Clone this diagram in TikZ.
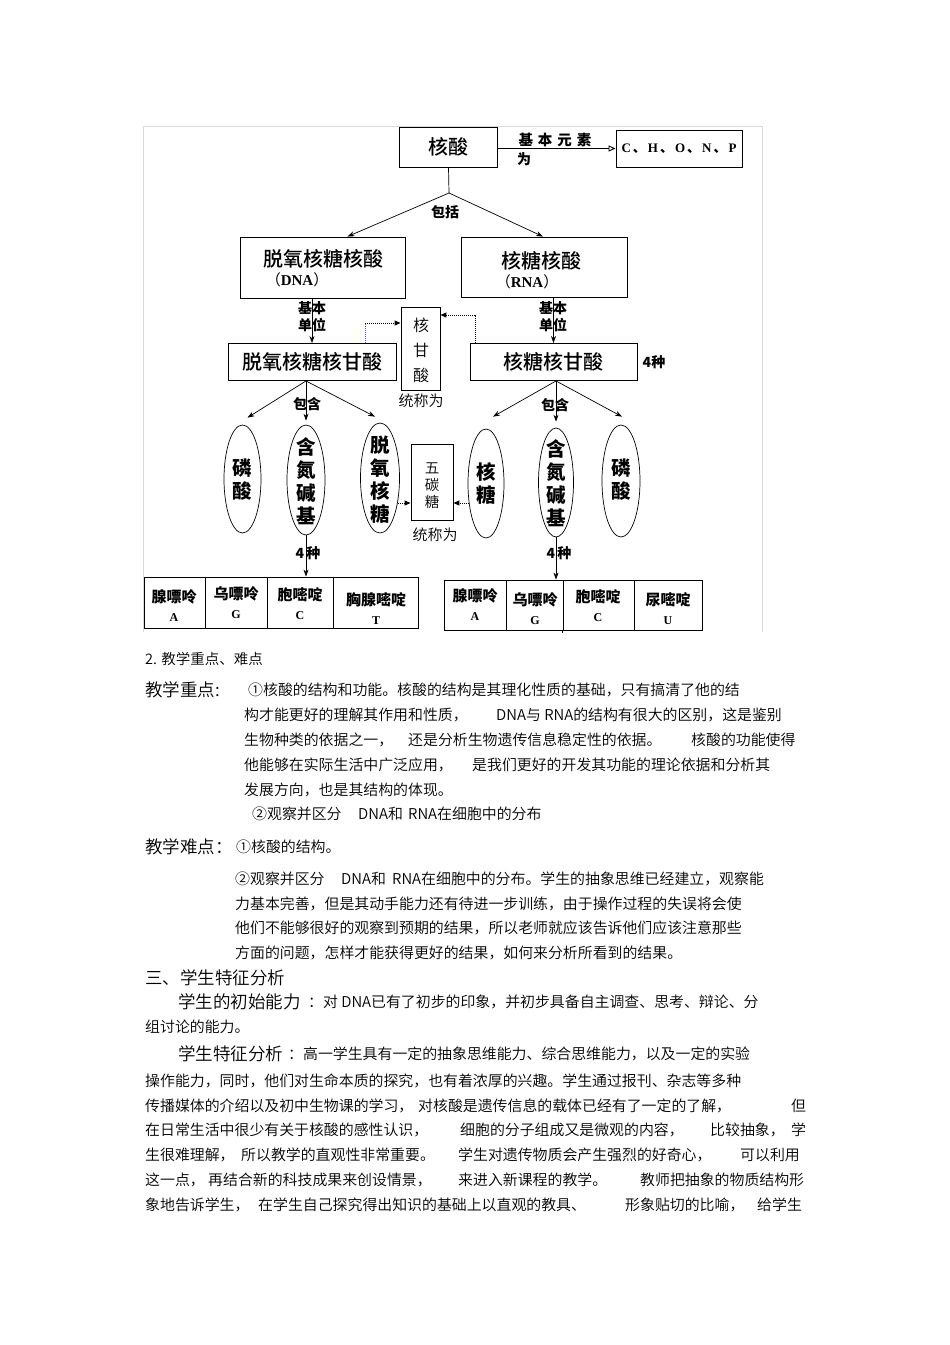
\documentclass[tikz,border=0pt]{standalone}
\usepackage{fontspec}
\setmainfont{Liberation Serif}
\newfontfamily\cjk{Noto Sans CJK SC}
\newfontfamily\cjkm{Noto Sans CJK SC}[UprightFont=* Medium]
\newfontfamily\cjkl{Noto Sans CJK SC}[UprightFont=* DemiLight]
\newfontfamily\serifb{Liberation Serif}
\usetikzlibrary{shapes.geometric,arrows.meta,calc}
\begin{document}
\begin{tikzpicture}[x=1pt,y=-1pt,
  box/.style={draw, line width=0.9pt, inner sep=0pt, font=\cjkm\fontsize{20}{22}\selectfont},
  plainbox/.style={draw, line width=0.9pt, inner sep=0pt},
  boxtxt/.style={inner sep=0pt, font=\cjkm\fontsize{20}{22}\selectfont},
  lbl/.style={inner sep=0pt, font=\cjk\bfseries\fontsize{14}{17}\selectfont, align=center},
  thin/.style={inner sep=0pt, font=\cjkl\fontsize{15}{18}\selectfont, align=center},
  arr/.style={-{Stealth[length=7pt,width=5pt]}, line width=0.7pt},
  dotarr/.style={line width=1pt, dash pattern=on 1pt off 1pt, -{Triangle[length=6pt,width=5pt]}},
  ell/.style={ellipse, draw, line width=0.7pt, inner sep=0pt},
  elltxt/.style={inner sep=0pt, font=\cjk\bfseries\fontsize{19.5}{23}\selectfont, align=center},
  cell/.style={draw, line width=0.9pt, inner sep=0pt},
  celltxt/.style={inner sep=0pt, font=\cjk\bfseries\fontsize{15}{19}\selectfont, align=center},
  body/.style={anchor=west, inner sep=0pt, font=\cjkl\fontsize{14.9}{18}\selectfont},
  head/.style={anchor=west, inner sep=0pt, font=\cjkl\fontsize{17.5}{20}\selectfont}
]
\useasboundingbox[fill=white] (0,0) rectangle (950,1345);
% frame
\draw[black!15, line width=0.8pt] (143,632) -- (143,126) -- (762,126) -- (762,632);

% top
\node[box, minimum width=98, minimum height=40] (hs) at (448.5,147) {核酸};
\node[plainbox, minimum width=126, minimum height=37, font=\serifb\bfseries\fontsize{13}{15}\selectfont] (el) at (679,148.5)
  {C\hspace{2pt}{\cjk 、}\hspace{2pt}H\hspace{2pt}{\cjk 、}\hspace{2pt}O\hspace{2pt}{\cjk 、}\hspace{2pt}N\hspace{2pt}{\cjk 、}\hspace{2pt}P};
\draw[line width=0.9pt, -{Triangle[open,length=7pt,width=6pt]}] (hs.east |- el.west) -- (el.west);
\node[lbl, font=\cjk\bfseries\fontsize{14.5}{17}\selectfont] (l1) at (555,140) {基\hspace{5pt}本\hspace{5pt}元\hspace{5pt}素};
\node[lbl] (l2) at (524,159) {为};

\coordinate (br) at (449,193);
\node[plainbox, minimum width=165, minimum height=61] (dna) at (322.5,267.5) {};
\node[plainbox, minimum width=166, minimum height=60] (rna) at (544,267) {};
\node[boxtxt] (dnat1) at (323,259) {脱氧核糖核酸};
\node[boxtxt, font=\fontsize{15}{17}\selectfont] (dnat2) at (297,280) {{\cjk （}{\serifb\bfseries DNA}{\cjk ）}};
\node[boxtxt] (rnat1) at (541,261) {核糖核酸};
\node[boxtxt, font=\fontsize{15}{17}\selectfont] (rnat2) at (527,282) {{\cjk （}{\serifb\bfseries RNA}{\cjk ）}};
\draw[line width=0.7pt] (hs.south) -- (br);
\draw[arr] (br) -- ($(dna.north)+(25,0)$);
\draw[arr] (br) -- ($(rna.north)+(-1,0)$);
\node[lbl] (l3) at (445,212) {包括};

% nucleotides
\node[box, minimum width=168, minimum height=37] (nuc1) at (312,362) {脱氧核糖核甘酸};
\node[box, minimum width=167, minimum height=37] (nuc2) at (553.5,362) {核糖核甘酸};
\draw[arr] (nuc1.north |- dna.south) -- (nuc1.north);
\draw[arr] (nuc2.north |- rna.south) -- (nuc2.north);
\node[lbl] (bu1) at (312,316.5) {基本\\单位};
\node[lbl] (bu2) at (553,316.5) {基本\\单位};
\node[lbl] (k0) at (654,362) {4种};

\node[plainbox, minimum width=39, minimum height=83] (hg) at (420.5,348.5) {};
\node[thin, font=\cjkl\fontsize{16}{25}\selectfont] (hgt) at (421,350) {核\\甘\\酸};
\node[thin] (hgl) at (421,401) {统称为};
\coordinate (hg1) at ($(hg.west)+(0,-25.5)$);
\coordinate (d1) at ($(nuc1.north)+(53,0)$);
\draw[blue!70, line width=0.6pt, dash pattern=on 1pt off 1pt] (d1) -- (d1 |- hg1);
\draw[dotarr] (d1 |- hg1) -- (hg1);
\coordinate (hg2) at ($(hg.east)+(0,-33.5)$);
\coordinate (d2) at ($(nuc2.north)+(-78.5,0)$);
\draw[dotarr] (d2) |- (hg2);

% ellipses
\node[ell, minimum width=37, minimum height=108] (eL1) at (242.5,479) {};
\node[ell, minimum width=38, minimum height=110] (eL2) at (306,480) {};
\node[ell, minimum width=39, minimum height=110] (eL3) at (380,478) {};
\node[ell, minimum width=36, minimum height=109] (eR1) at (486,483.5) {};
\node[ell, minimum width=35, minimum height=109] (eR2) at (556,482.5) {};
\node[ell, minimum width=38, minimum height=112] (eR3) at (621,481) {};
\node[elltxt] (tL1) at (242.5,480) {磷\\酸};
\node[elltxt] (tL2) at (306,481) {含\\氮\\碱\\基};
\node[elltxt] (tL3) at (380,480) {脱\\氧\\核\\糖};
\node[elltxt] (tR1) at (486,483) {核\\糖};
\node[elltxt] (tR2) at (556,483) {含\\氮\\碱\\基};
\node[elltxt] (tR3) at (621,480) {磷\\酸};

\coordinate (c1) at (nuc1.south -| eL2.north);
\draw[arr] (c1) -- ($(eL1.north)+(5,-7)$);
\draw[arr] (c1) -- ($(eL2.north)+(0,-4)$);
\draw[arr] (c1) -- ($(eL3.north)+(-5,-6)$);
\node[lbl] (bh1) at (307,404) {包含};
\coordinate (c2) at (nuc2.south -| eR2.north);
\draw[arr] (c2) -- ($(eR1.north)+(7,-12)$);
\draw[arr] (c2) -- ($(eR2.north)+(0,-6)$);
\draw[arr] (c2) -- ($(eR3.north)+(1,-8)$);
\node[lbl] (bh2) at (555,405) {包含};

% pentose
\node[plainbox, minimum width=42, minimum height=76] (wt) at (432,482) {};
\node[thin, font=\cjkl\fontsize{14.5}{17}\selectfont] (wtt) at (432,486) {五\\碳\\糖};
\node[thin] (wtl) at (435,535) {统称为};
\coordinate (p5L) at ($(eL3.center)+(18,25)$);
\draw[dotarr] (p5L) -- (p5L -| wt.west);
\coordinate (p5R) at ($(eR1.center)+(-17,19.5)$);
\draw[dotarr] (p5R) -- (p5R -| wt.east);

% tables
\node[cell, minimum width=61, minimum height=51] (a1) at (174.5,602.5) {};
\node[cell, minimum width=62, minimum height=51] (g1) at (236,602.5) {};
\node[cell, minimum width=66, minimum height=51] (cc1) at (300,602.5) {};
\node[cell, minimum width=85, minimum height=51] (t1) at (375.5,602.5) {};
\node[cell, minimum width=62, minimum height=50] (a2) at (475,605) {};
\node[cell, minimum width=57, minimum height=50] (g2) at (534.5,605) {};
\node[cell, minimum width=71, minimum height=50] (cc2) at (598.5,605) {};
\node[cell, minimum width=68, minimum height=50] (u2) at (668,605) {};
\draw[line width=0.9pt] (cc2.south west) -- ++(0,3);

\node[celltxt] (a1t) at (174,606) {腺嘌呤\\{\serifb\bfseries\fontsize{12}{14}\selectfont A}};
\node[celltxt] (g1t) at (236,603) {乌嘌呤\\{\serifb\bfseries\fontsize{12}{14}\selectfont G}};
\node[celltxt] (cc1t) at (300,604) {胞嘧啶\\{\serifb\bfseries\fontsize{12}{14}\selectfont C}};
\node[celltxt] (t1t) at (376,609) {胸腺嘧啶\\{\serifb\bfseries\fontsize{12}{14}\selectfont T}};
\node[celltxt] (a2t) at (475,605) {腺嘌呤\\{\serifb\bfseries\fontsize{12}{14}\selectfont A}};
\node[celltxt] (g2t) at (535,609) {乌嘌呤\\{\serifb\bfseries\fontsize{12}{14}\selectfont G}};
\node[celltxt] (cc2t) at (598,606) {胞嘧啶\\{\serifb\bfseries\fontsize{12}{14}\selectfont C}};
\node[celltxt] (u2t) at (668,609) {尿嘧啶\\{\serifb\bfseries\fontsize{12}{14}\selectfont U}};

\draw[arr] (eL2.south) -- (eL2.south |- cc1.north);
\draw[arr] (eR2.south) -- (eR2.south |- g2.north);
\node[lbl] (k1) at (308,553) {4\hspace{2pt}种};
\node[lbl] (k2) at (559,553) {4\hspace{2pt}种};

% text
\node[body, font=\cjkl\fontsize{14.5}{17}\selectfont] (t0) at (145,659) {2. 教学重点、难点};
\node[head] (h1) at (145,690) {教学重点:};
\node[body] (p1) at (248,690) {①核酸的结构和功能。核酸的结构是其理化性质的基础，只有搞清了他的结};
\node[body] (p2a) at (244,715) {构才能更好的理解其作用和性质，};
\node[body] (p2b) at (496,715) {DNA与 RNA的结构有很大的区别，这是鉴别};
\node[body] (p3a) at (244,740) {生物种类的依据之一，};
\node[body] (p3b) at (408,740) {还是分析生物遗传信息稳定性的依据。};
\node[body] (p3c) at (691,740) {核酸的功能使得};
\node[body] (p4a) at (244,765) {他能够在实际生活中广泛应用，};
\node[body] (p4b) at (472,765) {是我们更好的开发其功能的理论依据和分析其};
\node[body] (p5) at (244,790) {发展方向，也是其结构的体现。};
\node[body] (p6a) at (252,814) {②观察并区分};
\node[body] (p6b) at (358,814) {DNA和};
\node[body] (p6c) at (408,814) {RNA在细胞中的分布};

\node[head] (h2) at (145,847) {教学难点：};
\node[body] (q1) at (236,847) {①核酸的结构。};
\node[body] (q2a) at (235,879) {②观察并区分};
\node[body] (q2b) at (341,879) {DNA和};
\node[body] (q2c) at (392,879) {RNA在细胞中的分布。学生的抽象思维已经建立，观察能};
\node[body] (q3) at (235,904) {力基本完善，但是其动手能力还有待进一步训练，由于操作过程的失误将会使};
\node[body] (q4) at (235,928) {他们不能够很好的观察到预期的结果，所以老师就应该告诉他们应该注意那些};
\node[body] (q5) at (235,953) {方面的问题，怎样才能获得更好的结果，如何来分析所看到的结果。};

\node[head] (h3) at (145,978) {三、学生特征分析};
\node[head] (h4) at (178,1002) {学生的初始能力};
\node[body] (r1) at (308,1002) {：对 DNA已有了初步的印象，并初步具备自主调查、思考、辩论、分};
\node[body] (r2) at (145,1027) {组讨论的能力。};
\node[head] (h5) at (178,1054) {学生特征分析};
\node[body] (r3) at (288,1054) {：高一学生具有一定的抽象思维能力、综合思维能力，以及一定的实验};
\node[body] (r4) at (145,1081) {操作能力，同时，他们对生命本质的探究，也有着浓厚的兴趣。学生通过报刊、杂志等多种};
\node[body] (r5a) at (145,1106) {传播媒体的介绍以及初中生物课的学习，};
\node[body] (r5b) at (418,1106) {对核酸是遗传信息的载体已经有了一定的了解，};
\node[body] (r5c) at (791,1106) {但};
\node[body] (r6a) at (145,1130) {在日常生活中很少有关于核酸的感性认识，};
\node[body] (r6b) at (460,1130) {细胞的分子组成又是微观的内容，};
\node[body] (r6c) at (710,1130) {比较抽象，};
\node[body] (r6d) at (791,1130) {学};
\node[body] (r7a) at (145,1155) {生很难理解，};
\node[body] (r7b) at (241,1155) {所以教学的直观性非常重要。};
\node[body] (r7c) at (458,1155) {学生对遗传物质会产生强烈的好奇心，};
\node[body] (r7d) at (740,1155) {可以利用};
\node[body] (r8a) at (145,1180) {这一点，};
\node[body] (r8b) at (208,1180) {再结合新的科技成果来创设情景，};
\node[body] (r8c) at (458,1180) {来进入新课程的教学。};
\node[body] (r8d) at (640,1180) {教师把抽象的物质结构形};
\node[body] (r9a) at (145,1205) {象地告诉学生，};
\node[body] (r9b) at (258,1205) {在学生自己探究得出知识的基础上以直观的教具、};
\node[body] (r9c) at (625,1205) {形象贴切的比喻，};
\node[body] (r9d) at (757,1205) {给学生};
\end{tikzpicture}
\end{document}
